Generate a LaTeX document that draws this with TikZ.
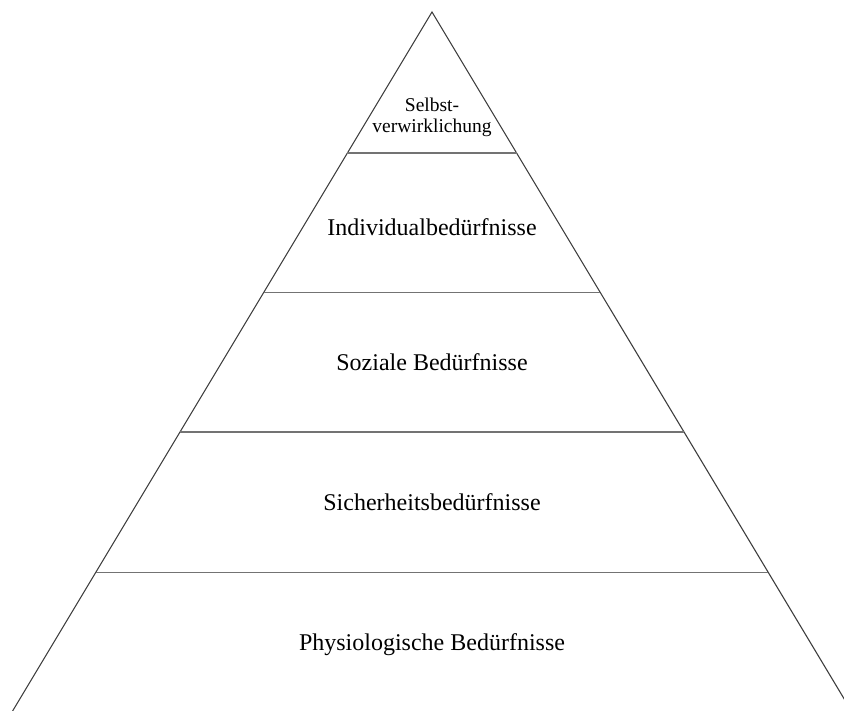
\documentclass[tikz,border=0pt]{standalone}
\usepackage{fontspec}
\setmainfont{Liberation Serif}
\begin{document}
\begin{tikzpicture}[x=1bp,y=-1bp,
  side/.style={draw=black!75,line width=1.1bp},
  level/.style={draw=black!55,line width=1.4bp},
  lbl/.style={anchor=base,inner sep=0pt,font=\fontsize{24bp}{28bp}\selectfont},
  toplbl/.style={anchor=base,inner sep=0pt,align=center,font=\fontsize{19.5bp}{21bp}\selectfont}]
\useasboundingbox (0,0) rectangle (844,711);
\clip (0,0) rectangle (844,711);
\def\sl{0.6}
\coordinate (apex) at (432,12);
\coordinate (bl) at ({432-\sl*699},711);
\coordinate (br) at ({432+\sl*699},711);
\draw[side] (bl) -- (apex) -- (br);
\foreach \yy/\nm in {153/a,292.7/b,432/c,572.7/d}{
  \coordinate (l\nm) at ({432-\sl*(\yy-12)},\yy);
  \coordinate (r\nm) at ({432+\sl*(\yy-12)},\yy);
  \draw[level] (l\nm) -- (r\nm);
}
\node[toplbl] (t1) at (432,133) {Selbst-\\verwirklichung};
\node[lbl] (t2) at (432,235) {Individualbedürfnisse};
\node[lbl] (t3) at (432,370) {Soziale Bedürfnisse};
\node[lbl] (t4) at (432,510) {Sicherheitsbedürfnisse};
\node[lbl] (t5) at (432,650) {Physiologische Bedürfnisse};
\end{tikzpicture}
\end{document}
